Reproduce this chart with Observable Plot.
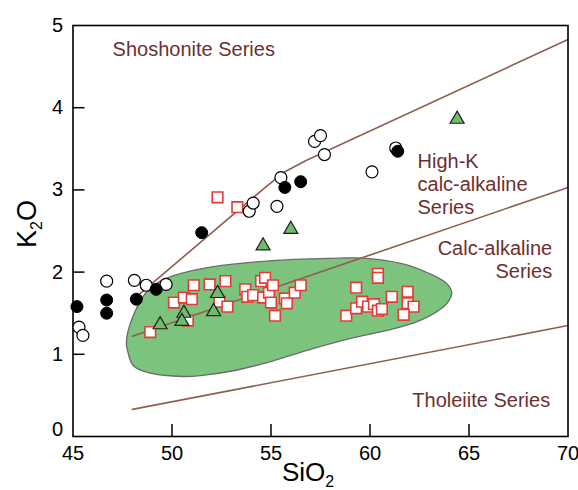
<!DOCTYPE html>
<html>
<head>
<meta charset="utf-8">
<script src="https://cdn.jsdelivr.net/npm/d3@7"></script>
<script src="https://cdn.jsdelivr.net/npm/@observablehq/plot@0.6"></script>
<style>
  html, body { margin: 0; padding: 0; background: #fff; }
  #chart { width: 578px; height: 490px; }
</style>
</head>
<body>
<div id="chart"></div>
<script>
// ---- Data ----
const xTicks = [45, 50, 55, 60, 65, 70];
const yTicks = [0, 1, 2, 3, 4, 5];

// open circles
const openX = [45.3, 45.5, 46.7, 48.1, 48.7, 49.7, 53.9, 54.1, 55.3, 55.5, 57.2, 57.5, 57.7, 60.1, 61.3];
const openY = [1.33, 1.23, 1.89, 1.90, 1.84, 1.85, 2.74, 2.84, 2.80, 3.15, 3.59, 3.66, 3.43, 3.22, 3.51];

// filled black circles
const blackX = [45.2, 46.7, 46.7, 48.2, 49.2, 51.5, 55.7, 56.5, 61.4];
const blackY = [1.58, 1.66, 1.50, 1.67, 1.79, 2.48, 3.03, 3.10, 3.47];

// red open squares
const sqX = [48.9, 50.1, 50.6, 51.0, 51.1, 51.9, 52.3, 53.3, 52.7, 52.4, 52.8, 50.8, 53.7, 53.8, 54.1, 54.5, 54.7, 54.6, 54.9, 55.1, 55.0, 55.2, 55.7, 55.8, 56.2, 56.5,
             58.8, 59.3, 59.3, 59.6, 59.9, 60.2, 60.4, 60.4, 60.4, 60.6, 61.1, 61.9, 61.9, 62.2, 61.7];
const sqY = [1.27, 1.63, 1.69, 1.67, 1.84, 1.85, 2.91, 2.79, 1.89, 1.64, 1.58, 1.41, 1.79, 1.70, 1.72, 1.89, 1.93, 1.69, 1.75, 1.84, 1.63, 1.47, 1.68, 1.62, 1.75, 1.84,
             1.47, 1.81, 1.56, 1.64, 1.58, 1.61, 1.98, 1.93, 1.53, 1.55, 1.70, 1.76, 1.62, 1.58, 1.48];

// green triangles
const triX = [49.4, 50.6, 50.5, 52.3, 52.1, 54.6, 56.0, 64.4];
const triY = [1.36, 1.50, 1.40, 1.74, 1.52, 2.32, 2.52, 3.86];

// green field outline
const fieldX = [47.70, 47.75, 48.15, 48.65, 49.41, 50.42, 51.93, 55.11, 58.48, 59.64, 61.66, 63.02, 63.88, 64.13, 63.98, 63.67, 62.51, 60.85, 59.14, 57.12, 54.80, 53.09, 51.43, 50.57, 48.91, 48.05, 47.75];
const fieldY = [1.11, 1.25, 1.53, 1.74, 1.89, 1.98, 2.06, 2.14, 2.17, 2.17, 2.10, 1.98, 1.86, 1.75, 1.65, 1.57, 1.41, 1.29, 1.20, 1.07, 0.90, 0.80, 0.74, 0.73, 0.77, 0.86, 1.05];

// series boundary lines
const shoX = [48.4, 54.8, 55.7, 56.8, 70];
const shoY = [1.74, 3.05, 3.22, 3.36, 4.83];
const hikX = [48, 70];
const hikY = [1.22, 3.03];
const thoX = [48, 70];
const thoY = [0.33, 1.35];

// series labels
const labelText = ["Shoshonite Series", "High-K\ncalc-alkaline\nSeries", "Calc-alkaline\nSeries", "Tholeiite Series"];
const labelX = [47.0, 62.4, 69.2, 69.1];
const labelY = [4.72, 3.08, 2.16, 0.45];
const labelAnchor = ["start", "start", "end", "end"];

// ---- Build tables ----
const pts = (xs, ys) => xs.map((x, i) => ({x, y: ys[i]}));
const field = pts(fieldX, fieldY);
const lines = [
  ...pts(shoX, shoY).map(d => ({...d, k: "sho"})),
  ...pts(hikX, hikY).map(d => ({...d, k: "hik"})),
  ...pts(thoX, thoY).map(d => ({...d, k: "tho"}))
];
const labels = labelText.map((t, i) => ({t, x: labelX[i], y: labelY[i], a: labelAnchor[i]}));

const W = 578, H = 490;
const mL = 72.5, mR = 10.5, mT = 25, mB = 54;
const fw = W - mL - mR, fh = H - mT - mB;
const font = "Liberation Sans, Arial, Helvetica, sans-serif";
const labCol = "#6e2f2f";
const lineCol = "#8f5e4e";

const plot = Plot.plot({
  width: W, height: H,
  marginLeft: mL, marginRight: mR, marginTop: mT, marginBottom: mB,
  style: {fontFamily: font, fontSize: "20px", background: "white", color: "black"},
  x: {domain: [45, 70], ticks: xTicks, tickSize: 0, tickPadding: 9, label: null, tickFormat: d3.format("d")},
  y: {domain: [0, 5], ticks: yTicks, tickSize: 0, tickPadding: 10, label: null, tickFormat: d3.format("d")},
  marks: [
    Plot.line(field, {x: "x", y: "y", curve: "catmull-rom-closed", fill: "#7cc47d", stroke: "#6a6a6a", strokeWidth: 1.3}),
    Plot.line(lines, {x: "x", y: "y", z: "k", stroke: lineCol, strokeWidth: 1.6}),
    Plot.tickY(yTicks.slice(1, 5), {y: d => d, insetRight: fw - 12, stroke: "black", strokeWidth: 1.5}),
    Plot.tickX(xTicks.slice(1, 5), {x: d => d, insetTop: fh - 12, stroke: "black", strokeWidth: 1.5}),
    Plot.frame({stroke: "black", strokeWidth: 1.6}),
    Plot.dot(pts(sqX, sqY), {x: "x", y: "y", symbol: "square", r: 6, fill: "white", stroke: "#e53a36", strokeWidth: 1.6}),
    Plot.dot(pts(openX, openY), {x: "x", y: "y", symbol: "circle", r: 6, fill: "white", stroke: "black", strokeWidth: 1.2}),
    Plot.dot(pts(blackX, blackY), {x: "x", y: "y", symbol: "circle", r: 6, fill: "black", stroke: "black", strokeWidth: 1}),
    Plot.dot(pts(triX, triY), {x: "x", y: "y", symbol: "triangle", r: 5.2, fill: "#6dbd6d", stroke: "#1e1e1e", strokeWidth: 1.2}),
    Plot.text(labels.filter(d => d.a === "start"), {x: "x", y: "y", text: "t", textAnchor: "start", lineAnchor: "middle", lineHeight: 1.15, fontSize: 20, fill: labCol, fontFamily: font}),
    Plot.text(labels.filter(d => d.a === "end"), {x: "x", y: "y", text: "t", textAnchor: "end", lineAnchor: "middle", lineHeight: 1.15, fontSize: 20, fill: labCol, fontFamily: font})
  ]
});

document.getElementById("chart").appendChild(plot);

const svg = d3.select(plot);

// Raise the "0" y tick label slightly, as in the reference
svg.selectAll("text")
  .filter(function() { return this.textContent === "0"; })
  .each(function() {
    const t = d3.select(this);
    if (this.hasAttribute("transform")) t.attr("y", "-0.03em");
    else t.attr("dy", "-0.03em");
  });

// Axis titles with subscripts
const xt = svg.append("text")
  .attr("x", 308).attr("y", 481)
  .attr("text-anchor", "middle")
  .attr("font-family", font).attr("font-size", 26).attr("fill", "black");
xt.append("tspan").text("SiO");
xt.append("tspan").attr("font-size", 16).attr("dy", 6).text("2");

const yt = svg.append("text")
  .attr("transform", "translate(36,224) rotate(-90)")
  .attr("text-anchor", "middle")
  .attr("font-family", font).attr("font-size", 27).attr("fill", "black");
yt.append("tspan").text("K");
yt.append("tspan").attr("font-size", 16).attr("dy", 6).text("2");
yt.append("tspan").attr("dy", -6).text("O");
</script>
</body>
</html>
